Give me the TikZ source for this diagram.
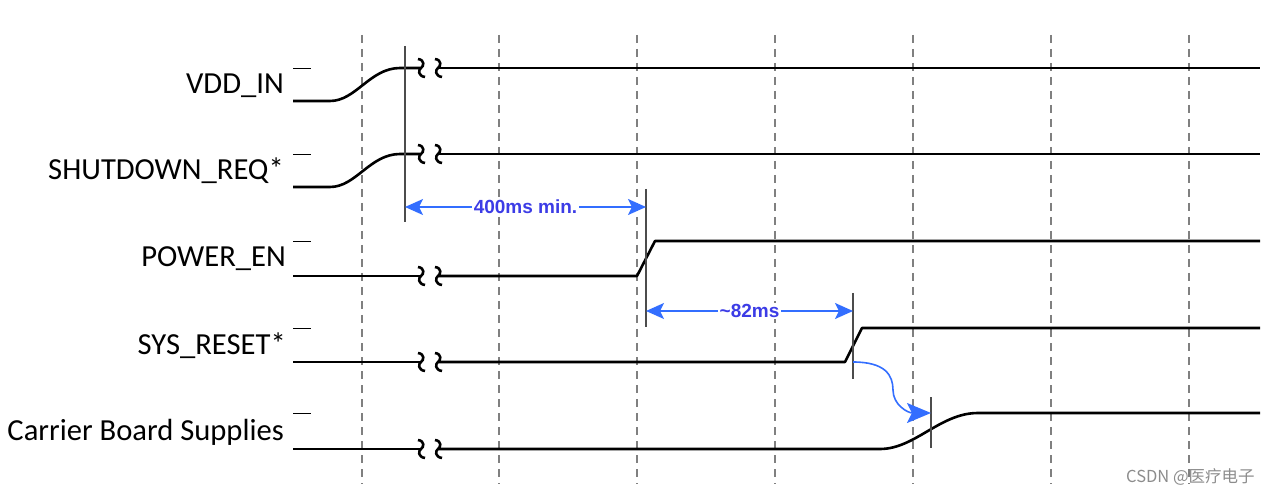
\documentclass[tikz,border=0pt]{standalone}
\usepackage{fontspec}
\setmainfont{Carlito}
\newfontfamily\dimfont{Liberation Sans}
\newfontfamily\cjkfont{Noto Sans CJK SC}
\usetikzlibrary{arrows.meta}
\definecolor{dimblue}{RGB}{51,110,255}
\definecolor{dimtext}{RGB}{60,60,230}
\tikzset{
  sig/.style={line width=2.6pt, black, line join=round},
  gridline/.style={gray, line width=1.3pt, dash pattern=on 8pt off 6pt},
  marker/.style={black!70, line width=1.2pt},
  lvl/.style={black, line width=0.9pt},
  lab/.style={anchor=base east, inner sep=0pt, font=\fontsize{30.6}{30.6}\selectfont},
  dimarrow/.style={dimblue, line width=1.6pt, {Stealth[length=18pt,width=16pt,inset=4pt]}-{Stealth[length=18pt,width=16pt,inset=4pt]}},
  dimlab/.style={fill=white, text=dimtext, inner sep=1.5pt, font=\dimfont\bfseries\fontsize{19}{19}\selectfont},
}
\newcommand{\brk}[2]{%
  \draw[sig] (#1-3,#2-9) .. controls (#1+4,#2-8) and (#1+3,#2-2) .. (#1,#2) .. controls (#1-3,#2+2) and (#1-3,#2+8) .. (#1+4,#2+9);}
\begin{document}
\begin{tikzpicture}[x=1pt,y=-1pt]
\useasboundingbox (0,0) rectangle (1277,494);
% grid
\foreach \gx in {362,499,637,775,913,1051,1189}
  \draw[gridline] (\gx,35) -- (\gx,484);
% labels
\node[lab] (l1) at (284,94) {VDD\_IN};
\node[lab] (l2) at (284,180) {SHUTDOWN\_REQ*};
\node[lab] (l3) at (286,267) {POWER\_EN};
\node[lab] (l4) at (286,354) {SYS\_RESET*};
\node[lab] (l5) at (284,440) {Carrier Board Supplies};
% level ticks
\foreach \hy in {68,154,241,328,413}
  \draw[lvl] (293,\hy) -- (311,\hy);
% VDD_IN
\draw[sig] (293,101) -- (330,101) .. controls (356,101) and (370,68) .. (400,68) -- (420,68);
\brk{421}{68}\brk{438}{68}
\draw[sig] (439,68) -- (1260,68);
% SHUTDOWN_REQ*
\draw[sig] (293,187) -- (330,187) .. controls (356,187) and (370,154) .. (400,154) -- (420,154);
\brk{421}{154}\brk{438}{154}
\draw[sig] (439,154) -- (1260,154);
% POWER_EN
\draw[sig] (293,276) -- (420,276);
\brk{421}{276}\brk{438}{276}
\draw[sig] (439,276) -- (637,276) -- (655,241) -- (1260,241);
% SYS_RESET*
\draw[sig] (293,362) -- (420,362);
\brk{421}{362}\brk{438}{362}
\draw[sig] (439,362) -- (845,362) -- (862,328) -- (1260,328);
% Carrier Board Supplies
\draw[sig] (293,449) -- (420,449);
\brk{421}{449}\brk{438}{449}
\draw[sig] (439,449) -- (880,449) .. controls (915,449) and (940,413) .. (978,413) -- (1260,413);
% markers
\coordinate (m1t) at (405,46); \coordinate (m1b) at (405,222);
\coordinate (m2t) at (646,189); \coordinate (m2b) at (646,327);
\coordinate (m3t) at (853,293); \coordinate (m3b) at (853,379);
\coordinate (m4t) at (931,397); \coordinate (m4b) at (931,448);
\draw[marker] (m1t) -- (m1b);
\draw[marker] (m2t) -- (m2b);
\draw[marker] (m3t) -- (m3b);
\draw[marker] (m4t) -- (m4b);
% dimensions
\coordinate (d1a) at (405,207); \coordinate (d1b) at (646,207);
\draw[dimarrow] (d1a) -- node[dimlab] (t1) {400ms min.} (d1b);
\coordinate (d2a) at (646,311); \coordinate (d2b) at (853,311);
\draw[dimarrow] (d2a) -- node[dimlab] (t2) {\textasciitilde82ms} (d2b);
\coordinate (c1) at (853,362); \coordinate (c2) at (931,413);
\draw[dimblue, line width=1.6pt, -{Stealth[length=24pt,width=20pt,inset=5pt]}] (c1) .. controls (885,362) and (893,375) .. (893,390) .. controls (893,405) and (908,413) .. (c2);
% watermark
\node[anchor=base west, inner sep=0pt, text=black!45, font=\cjkfont\fontsize{16.5}{16.5}\selectfont] (wm) at (1126,482) {CSDN @医疗电子};
\end{tikzpicture}
\end{document}
